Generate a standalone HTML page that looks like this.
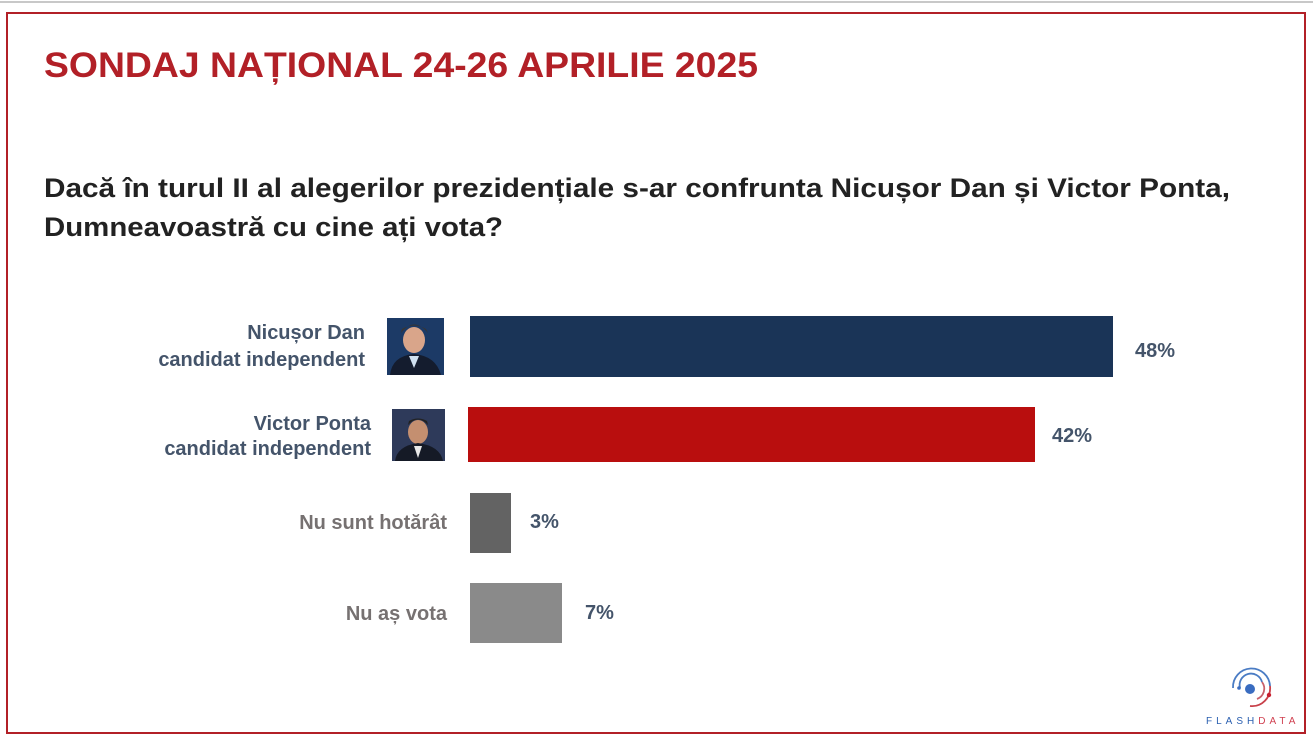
<!DOCTYPE html>
<html><head><meta charset="utf-8"><style>
html,body{margin:0;padding:0;background:#fff;}
svg{display:block;font-family:"Liberation Sans",sans-serif;font-weight:bold;}
</style></head><body>
<svg width="1313" height="743" viewBox="0 0 1313 743">
<rect x="0" y="0" width="1313" height="743" fill="#fff"/>
<line x1="0" y1="2" x2="1313" y2="2" stroke="#c8c8c8" stroke-width="2"/>
<rect x="7" y="13" width="1298" height="720" fill="none" stroke="#b22027" stroke-width="2"/>
<text x="44" y="77" font-size="35" fill="#b22027" textLength="714" lengthAdjust="spacingAndGlyphs">SONDAJ NAȚIONAL 24-26 APRILIE 2025</text>
<text x="44" y="197" font-size="27" fill="#222" textLength="1186" lengthAdjust="spacingAndGlyphs">Dacă în turul II al alegerilor prezidențiale s-ar confrunta Nicușor Dan și Victor Ponta,</text>
<text x="44" y="236" font-size="27" fill="#222" textLength="459" lengthAdjust="spacingAndGlyphs">Dumneavoastră cu cine ați vota?</text>

<g font-size="20" fill="#44546a" text-anchor="end">
<text x="365" y="339">Nicușor Dan</text>
<text x="365" y="366">candidat independent</text>
<text x="371" y="430">Victor Ponta</text>
<text x="371" y="455">candidat independent</text>
</g>
<g font-size="20" fill="#767171" text-anchor="end">
<text x="447" y="529">Nu sunt hotărât</text>
<text x="447" y="620">Nu aș vota</text>
</g>

<rect x="387" y="318" width="57" height="57" fill="#1c3a66"/>
<ellipse cx="414" cy="340" rx="11" ry="13" fill="#d9a58a"/>
<path d="M401 333 Q414 316 428 333 L426 329 Q414 322 402 329Z" fill="#3a3530"/>
<path d="M390 375 Q392 356 414 354 Q436 356 441 375Z" fill="#141c2e"/>
<path d="M409 356 L414 368 L419 356Z" fill="#cfe0f0"/>
<rect x="392" y="409" width="53" height="52" fill="#2e3a5a"/>
<ellipse cx="418" cy="432" rx="10" ry="12" fill="#c48f70"/>
<path d="M408 425 Q418 414 428 425 L427 421 Q418 416 409 421Z" fill="#222"/>
<path d="M395 461 Q397 446 418 443 Q440 446 443 461Z" fill="#151a26"/>
<path d="M414 446 L418 458 L422 446Z" fill="#e8e8e8"/>

<rect x="470" y="316" width="643" height="61" fill="#1a3457"/>
<rect x="468" y="407" width="567" height="55" fill="#b90e0e"/>
<rect x="470" y="493" width="41" height="60" fill="#636363"/>
<rect x="470" y="583" width="92" height="60" fill="#8a8a8a"/>

<g font-size="20" fill="#44546a">
<text x="1135" y="357">48%</text>
<text x="1052" y="442">42%</text>
<text x="530" y="528">3%</text>
<text x="585" y="619">7%</text>
</g>

<g fill="none" stroke-width="1.8">
<path d="M1233 688 A18 18 0 0 1 1270 686" stroke="#4a7cc4"/>
<path d="M1270 686 A18 18 0 0 1 1250 706" stroke="#c8404a"/>
<path d="M1240 688 A11 11 0 0 1 1262 682" stroke="#4a7cc4"/>
<path d="M1262 682 A11 11 0 0 1 1257 699" stroke="#c8606a"/>
</g>
<circle cx="1250" cy="689" r="5" fill="#3a6cc0"/>
<circle cx="1269" cy="695" r="2.2" fill="#c82030"/>
<circle cx="1239" cy="688" r="1.8" fill="#3a6cc0"/>
<text x="1206" y="724" font-size="10" font-weight="normal" letter-spacing="4" fill="#2a5fb0">FLASH<tspan fill="#d04050">DATA</tspan></text>
</svg>
</body></html>
